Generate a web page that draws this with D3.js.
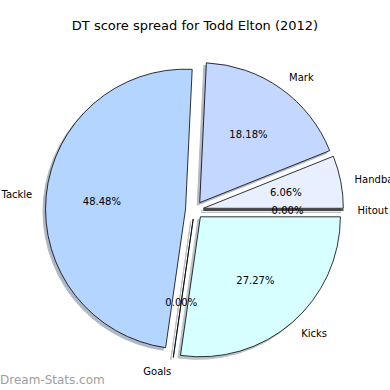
<!DOCTYPE html>
<head>
    <script src="https://d3js.org/d3.v7.min.js"></script>
    <style>
        body { margin: 0; background: #fff; }
        text { font-family: "DejaVu Sans", sans-serif; }
    </style>
</head>
<body>
    <script>
        // data
        const categories = ["Hitout", "Handball", "Mark", "Tackle", "Goals", "Kicks"];
        const values = [0, 2, 6, 16, 0, 9];
        const colors = ["#e0e8ff", "#e8f0ff", "#c4d8ff", "#b3d5ff", "#e0f0ff", "#d8ffff"];
        const title = "DT score spread for Todd Elton (2012)";

        const svg = d3.select("body").append("svg")
            .attr("width", 390)
            .attr("height", 390);

        const cx = 194.5, cy = 210, radius = 140, explode = 9;
        const total = d3.sum(values);
        const pctFmt = d => d3.format(".2f")(d / total * 100) + "%";

        // matplotlib-style: counter-clockwise from 3 o'clock
        const pie = d3.pie()
            .sort(null)
            .startAngle(Math.PI / 2)
            .endAngle(Math.PI / 2 - 2 * Math.PI);
        const arcs = pie(values).map((a, i) => {
            const mid = (a.startAngle + a.endAngle) / 2;
            return Object.assign(a, {
                name: categories[i],
                color: colors[i],
                mid: mid,
                ox: cx + explode * Math.sin(mid),
                oy: cy - explode * Math.cos(mid)
            });
        });

        const arc = d3.arc().innerRadius(0).outerRadius(radius);

        // shadows first, under every wedge
        svg.append("g").selectAll("path")
            .data(arcs)
            .join("path")
            .attr("transform", d => `translate(${d.ox - 2.5},${d.oy + 2.5})`)
            .attr("d", arc)
            .attr("fill", d => d3.rgb(d.color).darker(1.7))
            .attr("stroke", d => d3.rgb(d.color).darker(1.7))
            .attr("stroke-width", 1)
            .attr("opacity", 0.5);

        svg.append("g").selectAll("path")
            .data(arcs)
            .join("path")
            .attr("transform", d => `translate(${d.ox},${d.oy})`)
            .attr("d", arc)
            .attr("fill", d => d.color)
            .attr("stroke", "#000")
            .attr("stroke-width", 0.8)
            .attr("stroke-linejoin", "miter");

        // category labels
        svg.append("g").selectAll("text")
            .data(arcs)
            .join("text")
            .attr("x", d => d.ox + 1.1 * radius * Math.sin(d.mid))
            .attr("y", d => d.oy - 1.1 * radius * Math.cos(d.mid))
            .attr("text-anchor", d => Math.sin(d.mid) > 0 ? "start" : "end")
            .attr("dominant-baseline", "central")
            .attr("font-size", 10)
            .attr("fill", "#000")
            .text(d => d.name);

        // percentages
        svg.append("g").selectAll("text")
            .data(arcs)
            .join("text")
            .attr("x", d => d.ox + 0.6 * radius * Math.sin(d.mid))
            .attr("y", d => d.oy - 0.6 * radius * Math.cos(d.mid))
            .attr("text-anchor", "middle")
            .attr("dominant-baseline", "central")
            .attr("font-size", 10)
            .attr("fill", "#000")
            .text(d => pctFmt(d.data));

        svg.append("text")
            .attr("x", 195)
            .attr("y", 29.5)
            .attr("text-anchor", "middle")
            .attr("font-size", 13)
            .text(title);

        svg.append("text")
            .attr("x", 0)
            .attr("y", 384)
            .attr("font-size", 12)
            .attr("fill", "#a0a0a0")
            .text("Dream-Stats.com");
    </script>
</body>
